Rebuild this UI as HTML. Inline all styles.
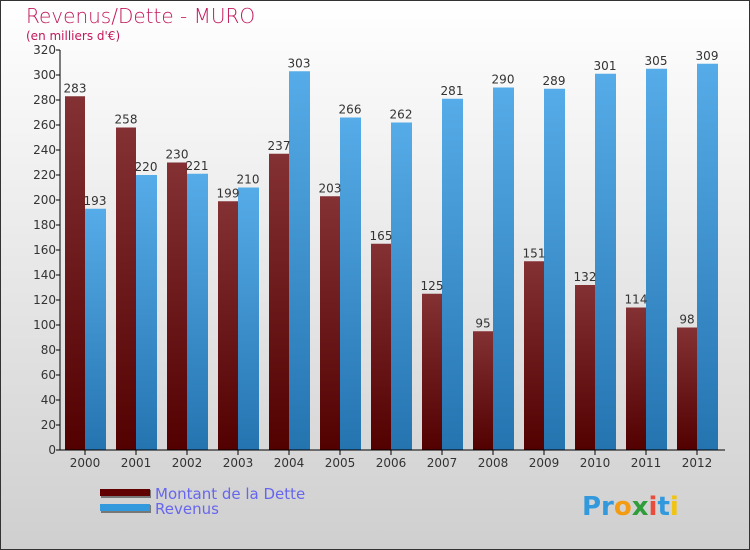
<!DOCTYPE html>
<html><head><meta charset="utf-8"><style>
body{margin:0}
svg{display:block;font-family:"DejaVu Sans","Liberation Sans",sans-serif}
</style></head><body>
<svg width="750" height="550">
<defs>
<linearGradient id="bg" x1="0" y1="0" x2="0" y2="1"><stop offset="0" stop-color="#ffffff"/><stop offset="1" stop-color="#cfcfcf"/></linearGradient>
<linearGradient id="gd" x1="0" y1="0" x2="0" y2="1"><stop offset="0" stop-color="#843134"/><stop offset="1" stop-color="#520000"/></linearGradient>
<linearGradient id="gr" x1="0" y1="0" x2="0" y2="1"><stop offset="0" stop-color="#56ace8"/><stop offset="1" stop-color="#2474b0"/></linearGradient>
</defs>
<rect x="0.5" y="0.5" width="749" height="549" fill="url(#bg)" stroke="#333"/>
<text x="26" y="23" font-size="20" fill="#c2185b" font-weight="200">Revenus/Dette - MURO</text>
<text x="26" y="40" font-size="12" fill="#c2185b">(en milliers d'€)</text>
<g id="plot"></g>
<g>
<rect x="101" y="490" width="50" height="8" fill="#777"/><rect x="100" y="489" width="50" height="7" fill="#600000"/>
<rect x="101" y="505" width="50" height="8" fill="#777"/><rect x="100" y="504" width="50" height="7" fill="#3399dd"/>
<text x="155" y="499" font-size="15" fill="#6666ee">Montant de la Dette</text>
<text x="155" y="514" font-size="15" fill="#6666ee">Revenus</text>
</g>
<text x="582" y="515" font-size="26" font-weight="bold"><tspan fill="#3399dd">Pr</tspan><tspan fill="#f39c12">o</tspan><tspan fill="#2e9d3a">x</tspan><tspan fill="#e74c3c">i</tspan><tspan fill="#3399dd">t</tspan><tspan fill="#f1c40f">i</tspan></text>
</svg>
<script>
const years=["2000","2001","2002","2003","2004","2005","2006","2007","2008","2009","2010","2011","2012"];
const dette=[283,258,230,199,237,203,165,125,95,151,132,114,98];
const revenus=[193,220,221,210,303,266,262,281,290,289,301,305,309];
const ticks=[0,20,40,60,80,100,120,140,160,180,200,220,240,260,280,300,320];
const NS="http://www.w3.org/2000/svg";
const g=document.getElementById('plot');
const y=v=>450-v*1.25, x=i=>85+i*51;
function mk(t,a,txt){const e=document.createElementNS(NS,t);for(const k in a)e.setAttribute(k,a[k]);if(txt!==undefined)e.textContent=txt;g.appendChild(e);return e;}
years.forEach((yr,i)=>{
 let b=mk('rect',{x:x(i)-20,y:y(dette[i]),width:20,height:dette[i]*1.25,fill:'url(#gd)'});
 
 
 let r=mk('rect',{x:x(i),y:y(revenus[i]),width:21,height:revenus[i]*1.25,fill:'url(#gr)'});
 
 
 let t1=mk('text',{x:x(i)-10,y:y(dette[i])-4,'font-size':12,fill:'#333','text-anchor':'middle'},dette[i]);
 
 
 let t2=mk('text',{x:x(i)+10,y:y(revenus[i])-4,'font-size':12,fill:'#333','text-anchor':'middle'},revenus[i]);
 
 
 mk('line',{x1:x(i),x2:x(i),y1:450,y2:455,stroke:'#000'});
 let l=mk('text',{x:x(i),y:467,'font-size':12,fill:'#333','text-anchor':'middle'},yr);
 
 
});
ticks.forEach(v=>{
 mk('line',{x1:56,x2:60,y1:y(v),y2:y(v),stroke:'#000'});
 let t=mk('text',{x:56,y:y(v)+4,'font-size':12,fill:'#333','text-anchor':'end'},v);
 
 
});
let ya=mk('line',{x1:60,x2:60,y1:50,y2:450,stroke:'#000'});


let xa=mk('line',{x1:60,x2:725,y1:450,y2:450,stroke:'#000'});


</script>
</body></html>
